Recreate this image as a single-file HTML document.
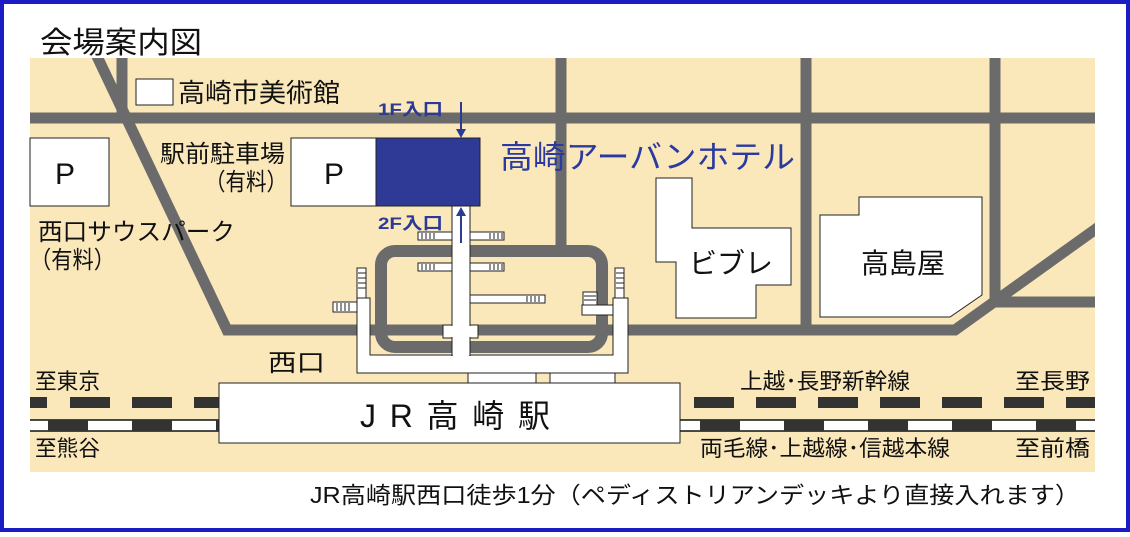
<!DOCTYPE html>
<html><head><meta charset="utf-8"><style>
html,body{margin:0;padding:0;background:#fff}
body{width:1130px;height:532px;overflow:hidden}
svg text{font-family:"Liberation Sans","Noto Sans CJK JP",sans-serif}
</style></head><body>
<svg width="1130" height="532" viewBox="0 0 1130 532" xmlns="http://www.w3.org/2000/svg">
<defs>
<clipPath id="mc"><rect x="30" y="58" width="1065" height="414"/></clipPath>
</defs>
<rect x="0" y="0" width="1130" height="532" fill="#fff"/>
<rect x="2" y="2" width="1126" height="528" fill="none" stroke="#1c1cc4" stroke-width="4"/>
<text x="40" y="53" font-size="30" fill="#111" textLength="162" lengthAdjust="spacingAndGlyphs">会場案内図</text>
<rect x="30" y="58" width="1065" height="414" fill="#fae8bb"/>
<g clip-path="url(#mc)" fill="none" stroke="#6b6b6b" stroke-width="11" stroke-linejoin="miter">
<line x1="20" y1="118" x2="1100" y2="118"/>
<polyline points="94,50 227,330 955,330 1100,226"/>
<line x1="122" y1="50" x2="122" y2="118"/>
<line x1="561" y1="50" x2="561" y2="250"/>
<line x1="806" y1="50" x2="806" y2="330"/>
<line x1="995" y1="50" x2="995" y2="302"/>
<line x1="995" y1="302" x2="1100" y2="302"/>
<rect x="381" y="251" width="221" height="96" rx="14" stroke-width="12"/>
</g>
<rect x="30" y="138" width="79" height="68" fill="#fff" stroke="#222" stroke-width="1"/>
<text x="65" y="184" font-size="30" text-anchor="middle" fill="#111">P</text>
<rect x="136" y="79" width="37" height="26" fill="#fff" stroke="#222" stroke-width="1"/>
<text x="178" y="102" font-size="26" fill="#111" textLength="162" lengthAdjust="spacingAndGlyphs">高崎市美術館</text>
<text x="160" y="162" font-size="24" fill="#111" textLength="125" lengthAdjust="spacingAndGlyphs">駅前駐車場</text>
<text x="205" y="190" font-size="24" fill="#111" textLength="82" lengthAdjust="spacingAndGlyphs">（有料）</text>
<text x="38" y="240" font-size="24" fill="#111" textLength="197" lengthAdjust="spacingAndGlyphs">西口サウスパーク</text>
<text x="30" y="268" font-size="24" fill="#111" textLength="85" lengthAdjust="spacingAndGlyphs">（有料）</text>
<rect x="291" y="138" width="85" height="68" fill="#fff" stroke="#222" stroke-width="1"/>
<text x="334" y="184" font-size="30" text-anchor="middle" fill="#111">P</text>
<rect x="376" y="138" width="104" height="68" fill="#2e3a96" stroke="#222" stroke-width="1"/>
<text x="500" y="168" font-size="32" fill="#2a3aa0" textLength="295" lengthAdjust="spacingAndGlyphs">高崎アーバンホテル</text>
<text x="378" y="115" font-size="17" font-weight="bold" fill="#2a3a96" textLength="65" lengthAdjust="spacingAndGlyphs">1F入口</text>
<text x="378" y="229" font-size="17" font-weight="bold" fill="#2a3a96" textLength="65" lengthAdjust="spacingAndGlyphs">2F入口</text>
<line x1="461" y1="102" x2="461" y2="130" stroke="#2a3a96" stroke-width="2"/>
<polygon points="456,129 466,129 461,138" fill="#2a3a96"/>
<polygon points="656,178 692,178 692,228 791,228 791,285 756,285 756,318 676,318 676,262 656,262" fill="#fff" stroke="#222" stroke-width="1"/>
<text x="731" y="273" font-size="28" text-anchor="middle" fill="#111">ビブレ</text>
<polygon points="820,215 859,215 859,197 982,197 982,295 950,317 820,317" fill="#fff" stroke="#222" stroke-width="1"/>
<text x="903" y="273" font-size="28" text-anchor="middle" fill="#111">高島屋</text>
<g fill="#fff" stroke="#222" stroke-width="1">
<rect x="468" y="373" width="68" height="12"/>
<rect x="550" y="373" width="65" height="12"/>
<rect x="333" y="302" width="26" height="10"/>
<rect x="582" y="305" width="33" height="10"/>
<rect x="418" y="232" width="36" height="8"/>
<rect x="468" y="232" width="36" height="8"/>
<rect x="418" y="263" width="36" height="8"/>
<rect x="468" y="263" width="36" height="8"/>
<rect x="468" y="295" width="77" height="8"/>
<rect x="443" y="325" width="35" height="13"/>
<rect x="357" y="268" width="9" height="30"/>
<rect x="615" y="268" width="9" height="30"/>
<rect x="583" y="292" width="14" height="13"/>
<path d="M357,298 H370 V355 H613 V298 H628 V373 H357 Z"/>
<rect x="452" y="206" width="18" height="150"/>
</g>
<g fill="#fff" stroke="none">
<rect x="358" y="356" width="269" height="16"/>
<rect x="453" y="207" width="16" height="149"/>
<rect x="444" y="326" width="33" height="11"/>
</g>
<g stroke="#222" stroke-width="1">
<path d="M422,233v6M426,233v6M430,233v6M434,233v6M490,233v6M494,233v6M498,233v6M502,233v6M422,264v6M426,264v6M430,264v6M434,264v6M490,264v6M494,264v6M498,264v6M502,264v6M527,296v6M531,296v6M535,296v6M539,296v6M337,303v8M341,303v8M345,303v8M349,303v8M358,273h8M358,278h8M358,283h8M358,288h8M616,273h8M616,278h8M616,283h8M616,288h8M584,296h12M584,300h12"/>
</g>
<line x1="461" y1="215" x2="461" y2="243" stroke="#2a3a96" stroke-width="2"/>
<polygon points="456,216 466,216 461,207" fill="#2a3a96"/>
<text x="268" y="371" font-size="24" fill="#111" textLength="57" lengthAdjust="spacingAndGlyphs">西口</text>
<g clip-path="url(#mc)">
<g fill="#333">
<rect x="30" y="397" width="17" height="11"/>
<rect x="70" y="397" width="40" height="11"/>
<rect x="132" y="397" width="40" height="11"/>
<rect x="194" y="397" width="40" height="11"/>
<rect x="694" y="397" width="40" height="11"/>
<rect x="756" y="397" width="40" height="11"/>
<rect x="818" y="397" width="40" height="11"/>
<rect x="880" y="397" width="40" height="11"/>
<rect x="942" y="397" width="40" height="11"/>
<rect x="1004" y="397" width="40" height="11"/>
<rect x="1066" y="397" width="40" height="11"/>
</g>
<rect x="25" y="420" width="1080" height="11" fill="#fff" stroke="#111" stroke-width="1.5"/>
<g fill="#333">
<rect x="48" y="420" width="40" height="11"/>
<rect x="132" y="420" width="40" height="11"/>
<rect x="216" y="420" width="40" height="11"/>
<rect x="700" y="420" width="40" height="11"/>
<rect x="784" y="420" width="40" height="11"/>
<rect x="868" y="420" width="40" height="11"/>
<rect x="952" y="420" width="40" height="11"/>
<rect x="1036" y="420" width="40" height="11"/>
</g>
</g>
<rect x="219" y="383" width="461" height="60" fill="#fff" stroke="#222" stroke-width="1"/>
<text x="360" y="427" font-size="32" fill="#111" textLength="190" lengthAdjust="spacing">JR高崎駅</text>
<g font-size="22" fill="#111">
<text x="35" y="389" textLength="65" lengthAdjust="spacingAndGlyphs">至東京</text>
<text x="35" y="456" textLength="65" lengthAdjust="spacingAndGlyphs">至熊谷</text>
<text x="740" y="389" textLength="170" lengthAdjust="spacingAndGlyphs">上越･長野新幹線</text>
<text x="1015" y="389" textLength="75" lengthAdjust="spacingAndGlyphs">至長野</text>
<text x="700" y="456" textLength="250" lengthAdjust="spacingAndGlyphs">両毛線･上越線･信越本線</text>
<text x="1015" y="456" textLength="75" lengthAdjust="spacingAndGlyphs">至前橋</text>
</g>
<text x="310" y="503" font-size="23" fill="#111" textLength="770" lengthAdjust="spacingAndGlyphs">JR高崎駅西口徒歩1分（ペディストリアンデッキより直接入れます）</text>
</svg>
</body></html>
